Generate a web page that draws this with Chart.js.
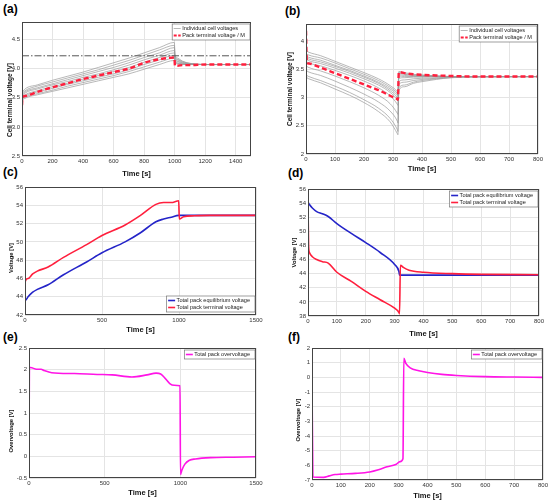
<!DOCTYPE html>
<html><head><meta charset="utf-8">
<script src="https://cdn.jsdelivr.net/npm/chart.js@4"></script>
<style>
body{margin:0;width:550px;height:503px;background:#fff;position:relative;overflow:hidden;font-family:"Liberation Sans",Arial,sans-serif}
canvas{position:absolute}
.lab{position:absolute;font-weight:bold;font-size:12px;line-height:12px}
</style></head><body>
<div class="lab" style="left:3px;top:3px">(a)</div>
<div class="lab" style="left:285px;top:5px">(b)</div>
<div class="lab" style="left:3px;top:166px">(c)</div>
<div class="lab" style="left:288px;top:167px">(d)</div>
<div class="lab" style="left:3px;top:331px">(e)</div>
<div class="lab" style="left:288px;top:331px">(f)</div>
<canvas id="pa"></canvas><canvas id="pb"></canvas>
<canvas id="pc"></canvas><canvas id="pd"></canvas>
<canvas id="pe"></canvas><canvas id="pf"></canvas>
<script>
// ---- (a) charge: cell voltages
var tA = [0, 3, 20, 100, 200, 300, 400, 500, 600, 700, 800, 900, 998, 1002, 1020, 1050, 1100, 1200, 1500];
var packA = [3.37, 3.50, 3.53, 3.60, 3.68, 3.75, 3.82, 3.88, 3.94, 4.00, 4.10, 4.16, 4.19, 4.05, 4.05, 4.06, 4.06, 4.07, 4.07];
var cellsA = [
  [3.42,3.45,3.49,3.55,3.61,3.67,3.73,3.79,3.85,3.91,3.99,4.07,4.14,4.10,4.08,4.07,4.07,4.07,4.07],
  [3.44,3.47,3.51,3.57,3.63,3.70,3.76,3.82,3.88,3.95,4.03,4.11,4.18,4.12,4.09,4.08,4.07,4.07,4.07],
  [3.46,3.49,3.53,3.60,3.66,3.73,3.79,3.85,3.91,3.98,4.07,4.15,4.23,4.14,4.10,4.08,4.07,4.07,4.07],
  [3.48,3.51,3.55,3.62,3.69,3.75,3.82,3.88,3.95,4.02,4.11,4.19,4.27,4.16,4.12,4.09,4.08,4.07,4.07],
  [3.50,3.53,3.58,3.65,3.72,3.78,3.85,3.91,3.98,4.06,4.15,4.23,4.31,4.18,4.13,4.10,4.08,4.07,4.07],
  [3.52,3.55,3.60,3.67,3.74,3.81,3.88,3.95,4.02,4.10,4.19,4.27,4.36,4.20,4.15,4.11,4.08,4.07,4.07],
  [3.54,3.57,3.62,3.70,3.77,3.84,3.91,3.98,4.06,4.14,4.23,4.32,4.40,4.22,4.16,4.12,4.09,4.07,4.07],
  [3.56,3.59,3.65,3.72,3.80,3.87,3.94,4.02,4.10,4.18,4.27,4.36,4.45,4.24,4.18,4.13,4.09,4.07,4.07]
];
var tLimA = [0, 1500];
var limA = [4.22, 4.22];
var xTicksA = [0, 200, 400, 600, 800, 1000, 1200, 1400];
var yTicksA = [2.5, 3.0, 3.5, 4.0, 4.5];

// ---- (b) discharge: cell voltages
var tB = [0, 3, 10, 50, 100, 150, 200, 250, 290, 315, 317, 320, 340, 370, 400, 450, 500, 600, 800];
var packB = [4.18, 3.62, 3.60, 3.53, 3.43, 3.33, 3.23, 3.13, 3.03, 2.97, 2.96, 3.45, 3.43, 3.41, 3.40, 3.39, 3.38, 3.37, 3.37];
var cellsB = [
  [3.85,3.82,3.80,3.74,3.64,3.54,3.44,3.33,3.21,3.10,3.08,3.46,3.44,3.41,3.40,3.38,3.37,3.37,3.37],
  [3.80,3.77,3.75,3.70,3.61,3.51,3.41,3.30,3.18,3.07,3.05,3.44,3.42,3.40,3.39,3.38,3.37,3.37,3.37],
  [3.76,3.73,3.71,3.66,3.57,3.48,3.38,3.27,3.15,3.04,3.02,3.42,3.41,3.39,3.38,3.38,3.37,3.37,3.37],
  [3.73,3.70,3.68,3.63,3.55,3.46,3.36,3.25,3.12,3.00,2.98,3.40,3.39,3.38,3.38,3.37,3.37,3.37,3.37],
  [3.70,3.67,3.65,3.60,3.52,3.43,3.33,3.22,3.09,2.96,2.94,3.38,3.37,3.37,3.37,3.37,3.37,3.37,3.37],
  [3.66,3.63,3.61,3.56,3.48,3.39,3.29,3.17,3.03,2.88,2.86,3.34,3.35,3.36,3.36,3.37,3.37,3.37,3.37],
  [3.58,3.55,3.53,3.47,3.38,3.28,3.17,3.04,2.89,2.72,2.70,3.28,3.31,3.33,3.34,3.35,3.36,3.37,3.37],
  [3.50,3.47,3.45,3.39,3.29,3.18,3.06,2.92,2.76,2.58,2.55,3.23,3.27,3.30,3.32,3.34,3.36,3.37,3.37],
  [3.42,3.39,3.37,3.30,3.20,3.09,2.96,2.81,2.63,2.43,2.40,3.17,3.22,3.27,3.30,3.33,3.35,3.37,3.37],
  [3.38,3.35,3.33,3.26,3.15,3.04,2.91,2.75,2.57,2.36,2.34,3.13,3.19,3.25,3.28,3.32,3.35,3.36,3.37]
];
var xTicksB = [0, 100, 200, 300, 400, 500, 600, 700, 800];
var yTicksB = [2, 2.5, 3, 3.5, 4];

// ---- (c) charge: pack voltages
var tC = [0, 2, 20, 50, 80, 150, 250, 400, 500, 650, 750, 850, 900, 950, 998, 1002, 1030, 1100, 1200, 1500];
var eqC = [43.6, 43.6, 44.0, 44.5, 44.8, 45.3, 46.4, 47.8, 48.8, 50.0, 51.0, 52.2, 52.5, 52.7, 52.9, 52.9, 52.9, 52.9, 52.9, 52.9];
var termC = [43.6, 45.7, 46.0, 46.5, 46.8, 47.25, 48.3, 49.7, 50.7, 51.85, 52.9, 54.1, 54.3, 54.3, 54.5, 52.5, 52.75, 52.85, 52.9, 52.9];
var xTicksC = [0, 500, 1000, 1500];
var yTicksC = [42, 44, 46, 48, 50, 52, 54, 56];

// ---- (d) discharge: pack voltages
var tD = [0, 2, 5, 15, 30, 50, 70, 100, 150, 200, 250, 300, 315, 317, 320, 330, 350, 400, 500, 600, 800];
var eqD = [54.1, 54.0, 53.8, 53.3, 52.8, 52.5, 52.1, 51.1, 49.7, 48.4, 47.0, 45.3, 44.3, 43.8, 43.8, 43.8, 43.8, 43.8, 43.8, 43.8, 43.8];
var termD = [54.0, 48.0, 47.0, 46.4, 46.0, 45.7, 45.5, 44.2, 42.9, 41.5, 40.3, 39.1, 38.5, 38.3, 45.2, 44.9, 44.5, 44.2, 44.0, 43.9, 43.85];
var xTicksD = [0, 100, 200, 300, 400, 500, 600, 700, 800];
var yTicksD = [38, 40, 42, 44, 46, 48, 50, 52, 54, 56];

// ---- (e) charge: overvoltage
var tE = [0, 3, 10, 50, 80, 100, 150, 300, 450, 550, 680, 780, 840, 870, 900, 930, 960, 998, 1001, 1010, 1030, 1060, 1100, 1200, 1350, 1500];
var ovE = [0, 2.05, 2.05, 2.01, 2.01, 1.98, 1.93, 1.91, 1.89, 1.88, 1.83, 1.88, 1.92, 1.90, 1.80, 1.68, 1.64, 1.63, -0.42, -0.32, -0.18, -0.09, -0.06, -0.03, -0.02, -0.01];
var xTicksE = [0, 500, 1000, 1500];
var yTicksE = [-0.5, 0, 0.5, 1, 1.5, 2, 2.5];

// ---- (f) discharge: overvoltage
var tF = [0, 3, 40, 60, 80, 100, 150, 200, 230, 260, 290, 305, 315, 318, 325, 340, 370, 400, 450, 500, 600, 700, 800];
var ovF = [0, -6.8, -6.82, -6.72, -6.63, -6.6, -6.55, -6.45, -6.3, -6.1, -5.95, -5.75, -5.55, 1.3, 0.95, 0.65, 0.45, 0.33, 0.2, 0.13, 0.05, 0.02, 0.0];
var xTicksF = [0, 100, 200, 300, 400, 500, 600, 700, 800];
var yTicksF = [-7, -6, -5, -4, -3, -2, -1, 0, 1, 2];

var FONT = '"Liberation Sans", Arial, sans-serif';
var GRAY = '#9a9a9a', RED = '#ff1f3d', BLUE = '#2424c8', MAG = '#ff14e6';

function pts(t, v) { return t.map(function (x, i) { return {x: x, y: v[i]}; }); }

// frame around the plot, y title, small boxed legend inside the plot
var boxLegend = {
  id: 'boxLegend',
  afterDatasetsDraw: function (chart, args, opts) {
    var ca = chart.chartArea, ctx = chart.ctx;
    ctx.save();
    ctx.strokeStyle = '#444'; ctx.lineWidth = 1;
    ctx.strokeRect(ca.left + 0.5, ca.top + 0.5, ca.width - 1, ca.height - 1);

    // y title (the original sits a bit below the axis centre on some panels)
    ctx.save();
    ctx.translate(5, (ca.top + ca.bottom) / 2 + (opts.yOff || 0));
    ctx.rotate(-Math.PI / 2);
    ctx.font = 'bold ' + opts.ySize + 'px ' + FONT;
    ctx.fillStyle = '#111'; ctx.textAlign = 'center'; ctx.textBaseline = 'middle';
    ctx.fillText(opts.yTitle, 0, 0);
    ctx.restore();

    var items = chart.data.datasets.filter(function (d) { return d.label; });
    ctx.font = '5.6px ' + FONT;
    var sw = 7, lh = 7;
    var tw = Math.max.apply(null, items.map(function (d) { return ctx.measureText(d.label).width; }));
    var w = sw + 5 + tw + 3, h = items.length * lh + 2;
    var x = ca.right - w - 1;
    var y = opts.corner === 'br' ? ca.bottom - h - 3 : ca.top + 2;
    ctx.fillStyle = '#fff'; ctx.fillRect(x, y, w, h);
    ctx.strokeStyle = '#777'; ctx.lineWidth = 0.7; ctx.strokeRect(x, y, w, h);
    items.forEach(function (d, i) {
      var yy = y + 1 + lh * i + lh / 2;
      ctx.strokeStyle = d.borderColor; ctx.lineWidth = Math.min(d.borderWidth, 1.8);
      ctx.setLineDash(d.borderDash ? [3, 1.5] : []);
      ctx.beginPath(); ctx.moveTo(x + 1.5, yy); ctx.lineTo(x + 1.5 + sw, yy); ctx.stroke();
      ctx.setLineDash([]);
      ctx.fillStyle = '#222'; ctx.textBaseline = 'middle';
      ctx.fillText(d.label, x + sw + 3, yy + 0.3);
    });
    ctx.restore();
  }
};

function panel(id, box, cfg) {
  // box: canvas left, plot left, top, right, bottom, x-axis height
  var cl = box[0], L = box[1], T = box[2], R = box[3], B = box[4], xh = box[5];
  var pt = 6, pr = 9;
  var cv = document.getElementById(id);
  cv.width = R - cl + pr; cv.height = B - T + pt + xh;
  cv.style.left = cl + 'px'; cv.style.top = (T - pt) + 'px';
  var tickFont = {family: FONT, size: 6};
  new Chart(cv, {
    type: 'line',
    data: {datasets: cfg.datasets},
    options: {
      responsive: false, animation: false, devicePixelRatio: 1,
      layout: {padding: {top: pt, right: pr, left: 0, bottom: 0}},
      elements: {point: {radius: 0}, line: {cubicInterpolationMode: 'monotone'}},
      plugins: {
        legend: {display: false}, tooltip: {enabled: false},
        boxLegend: {corner: cfg.corner, yTitle: cfg.yTitle, ySize: cfg.ySize, yOff: cfg.yOff}
      },
      scales: {
        x: {
          type: 'linear', min: cfg.xTicks[0], max: cfg.xMax,
          afterBuildTicks: function (s) { s.ticks = cfg.xTicks.map(function (v) { return {value: v}; }); },
          afterFit: function (s) { s.height = xh; },
          ticks: {font: tickFont, color: '#333', padding: 2, maxRotation: 0, autoSkip: false,
                  callback: function (v) { return String(v); }},
          grid: {color: '#e4e4e4', drawTicks: false}, border: {display: false},
          title: {display: true, text: 'Time [s]', color: '#111', font: {family: FONT, size: 7.5, weight: 'bold'}, padding: {top: 0, bottom: 1}}
        },
        y: {
          type: 'linear', min: cfg.yMin, max: cfg.yMax,
          afterBuildTicks: function (s) { s.ticks = cfg.yTicks.map(function (v) { return {value: v}; }); },
          afterFit: function (s) { s.width = L - cl; },
          ticks: {font: tickFont, color: '#333', padding: 2, autoSkip: false, callback: cfg.yFmt || function (v) { return String(v); }},
          grid: {color: '#e4e4e4', drawTicks: false}, border: {display: false},
          title: {display: false}
        }
      }
    },
    plugins: [boxLegend]
  });
}

function cellSets(tt, cells) {
  return cells.map(function (c, i) {
    return {label: i === 0 ? 'Individual cell voltages' : '', data: pts(tt, c), borderColor: GRAY, borderWidth: 0.7, order: 2};
  });
}

// (a)
panel('pa', [5, 22, 22, 251, 156, 23], {
  xTicks: xTicksA, xMax: 1500, yMin: 2.5, yMax: 4.8, yTicks: yTicksA,
  yFmt: function (v) { return v.toFixed(1); },
  yTitle: 'Cell terminal voltage [V]', ySize: 6.5, yOff: 11, corner: 'tr',
  datasets: cellSets(tA, cellsA).concat([
    {label: 'Pack terminal voltage / M', data: pts(tA, packA), borderColor: RED, borderWidth: 2.4, borderDash: [5, 3], order: 0},
    {label: '', data: pts(tLimA, limA), borderColor: '#555', borderWidth: 1, borderDash: [7, 2, 1.5, 2], order: 1}
  ])
});

// (b)
panel('pb', [285, 306, 24, 538, 154, 20], {
  xTicks: xTicksB, xMax: 800, yMin: 2, yMax: 4.3, yTicks: yTicksB,
  yTitle: 'Cell terminal voltage [V]', ySize: 6.5, yOff: 0, corner: 'tr',
  datasets: cellSets(tB, cellsB).concat([
    {label: 'Pack terminal voltage / M', data: pts(tB, packB), borderColor: RED, borderWidth: 2.4, borderDash: [5, 3], order: 0}
  ])
});

// (c)
panel('pc', [6, 25, 187, 256, 315, 20], {
  xTicks: xTicksC, xMax: 1500, yMin: 42, yMax: 56, yTicks: yTicksC,
  yTitle: 'Voltage [V]', ySize: 5.8, yOff: 7, corner: 'br',
  datasets: [
    {label: 'Total pack equilibrium voltage', data: pts(tC, eqC), borderColor: BLUE, borderWidth: 1.6, order: 1},
    {label: 'Total pack terminal voltage', data: pts(tC, termC), borderColor: RED, borderWidth: 1.6, order: 0}
  ]
});

// (d)
panel('pd', [289, 308, 189, 539, 316, 23], {
  xTicks: xTicksD, xMax: 800, yMin: 38, yMax: 56, yTicks: yTicksD,
  yTitle: 'Voltage [V]', ySize: 5.8, yOff: 0, corner: 'tr',
  datasets: [
    {label: 'Total pack equilibrium voltage', data: pts(tD, eqD), borderColor: BLUE, borderWidth: 1.6, order: 1},
    {label: 'Total pack terminal voltage', data: pts(tD, termD), borderColor: RED, borderWidth: 1.6, order: 0}
  ]
});

// (e)
panel('pe', [6, 29, 348, 256, 478, 20], {
  xTicks: xTicksE, xMax: 1500, yMin: -0.5, yMax: 2.5, yTicks: yTicksE,
  yTitle: 'Overvoltage [V]', ySize: 5.8, yOff: 18, corner: 'tr',
  datasets: [
    {label: 'Total pack overvoltage', data: pts(tE, ovE), borderColor: MAG, borderWidth: 1.6}
  ]
});

// (f)
panel('pf', [293, 312, 348, 543, 480, 21], {
  xTicks: xTicksF, xMax: 800, yMin: -7, yMax: 2, yTicks: yTicksF,
  yTitle: 'Overvoltage [V]', ySize: 5.8, yOff: 6, corner: 'tr',
  datasets: [
    {label: 'Total pack overvoltage', data: pts(tF, ovF), borderColor: MAG, borderWidth: 1.6}
  ]
});
</script>
</body></html>
